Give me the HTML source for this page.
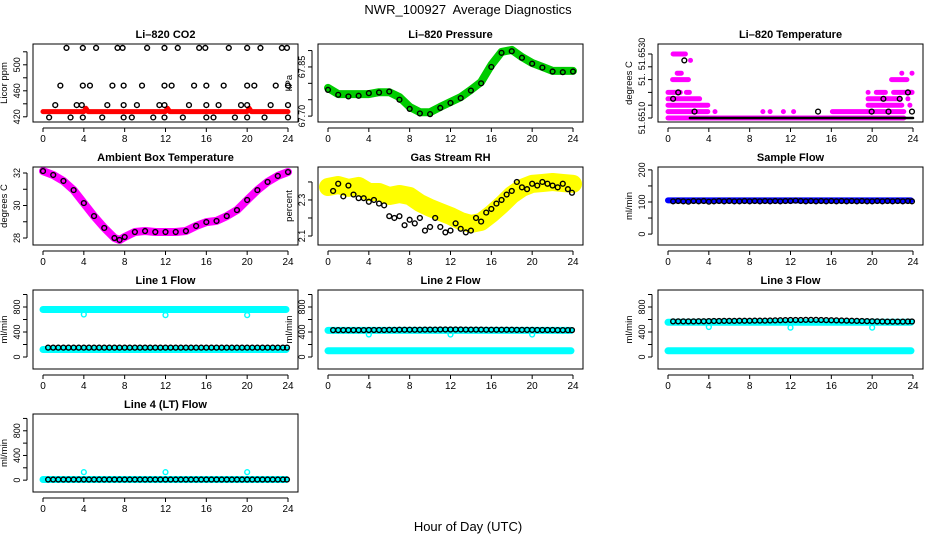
<!DOCTYPE html>
<html><head><meta charset="utf-8"><style>
body{margin:0;background:#fff;}
svg{display:block;font-family:"Liberation Sans",Arial,sans-serif;}
</style></head><body>
<svg id="chart" width="936" height="540" viewBox="0 0 936 540">
<text x="468" y="14" text-anchor="middle" font-size="13" xml:space="preserve">NWR_100927  Average Diagnostics</text>
<text x="468" y="531" text-anchor="middle" font-size="13">Hour of Day (UTC)</text>
</svg>
<script>
// ---------- data ----------
const xTicks = [0,4,8,12,16,20,24];
const hrs = [0.5,1,1.5,2,2.5,3,3.5,4,4.5,5,5.5,6,6.5,7,7.5,8,8.5,9,9.5,10,10.5,11,11.5,12,12.5,13,13.5,14,14.5,15,15.5,16,16.5,17,17.5,18,18.5,19,19.5,20,20.5,21,21.5,22,22.5,23,23.5,23.9];

// CO2
const co2BlackX = [2.3,3.9,5.2,7.3,7.8,10.2,11.9,13.2,15.3,15.9,18.2,20,21.3,23.4,23.9,
  1.7,3.9,4.6,6.8,7.9,9.7,11.9,12.6,14.8,16,17.7,20,20.7,22.8,24,
  1.2,3.3,3.8,6.3,7.9,9.2,11.4,11.9,14.3,16,17.2,19.4,20,22.3,24,
  0.6,2.7,3.9,5.8,7.9,8.7,10.8,11.9,13.7,16,16.7,18.8,20,21.7,24];
const co2BlackY = [526,526,526,526,526,526,526,526,526,526,526,526,526,526,526,
  468,468,468,468,468,468,468,468,468,468,468,468,468,468,468,
  438,438,438,438,438,438,438,438,438,438,438,438,438,438,438,
  419,419,419,419,419,419,419,419,419,419,419,419,419,419,419];
const co2RedX = [0,4,4.2,4.4,12,12.2,12.4,20,20.2,20.4,24];
const co2RedY = [428,428,433,428,428,433,428,428,433,428,428];

// Pressure
const presX = [0,1,2,3,4,5,6,7,8,9,10,11,12,13,14,15,16,17,18,19,20,21,22,23,24];
const presGreen = [67.786,67.767,67.767,67.767,67.767,67.773,67.773,67.758,67.728,67.712,67.712,67.728,67.743,67.758,67.780,67.804,67.856,67.896,67.902,67.880,67.862,67.850,67.838,67.838,67.838];
const presBlack = [67.780,67.765,67.760,67.762,67.770,67.772,67.775,67.750,67.722,67.708,67.706,67.725,67.740,67.755,67.778,67.800,67.850,67.893,67.898,67.878,67.860,67.848,67.836,67.834,67.836];

// Li-820 temperature (levels of 0.0002 above 51.6510)
const tmLevel = [0,1,1,1,1,1,1,1,2,2,2,3,3,3,4,4,4,4,4,4,6,6,7,7,7,9,10];
const tmStart = [0.0,0.0,9.3,10.0,11.3,12.3,16.1,4.6,0.0,19.6,23.7,0.0,19.6,23.5,0.0,1.8,19.6,20.4,22.1,23.4,0.45,21.9,0.9,22.9,23.9,2.2,0.5];
const tmEnd   = [23.1,3.9,9.3,10.0,11.3,12.3,23.1,4.6,3.9,22.9,23.7,3.1,22.7,23.5,1.2,2.1,19.6,21.3,23.9,23.9,2.0,23.4,1.3,22.9,23.9,2.2,1.7];
const tbX = [0.5,1.0,1.6,2.6,14.7,19.95,21.1,21.6,22.7,23.5,23.9];
const tbLevel = [3,4,9,1,1,1,3,1,3,4,1];
const tbBandStart = 2.15, tbBandEnd = 24.0;

// Ambient box temperature
const ambX = [0,1,2,3,4,5,6,7,7.5,8,9,10,11,12,13,14,15,16,17,18,19,20,21,22,23,24];
const ambY = [32.12,31.88,31.51,30.95,30.15,29.35,28.62,28.0,27.88,28.06,28.37,28.43,28.37,28.37,28.37,28.43,28.74,28.98,29.05,29.35,29.72,30.34,30.95,31.45,31.82,32.06];

// Gas stream RH
const rhX = [0,1,2,3,4,5,6,7,8,9,10,11,12,13,14,15,16,17,18,19,20,21,22,23,24];
const rhY = [2.372,2.383,2.367,2.378,2.344,2.344,2.322,2.333,2.322,2.283,2.256,2.233,2.211,2.183,2.167,2.178,2.222,2.272,2.328,2.367,2.389,2.394,2.400,2.394,2.389];
const rhBlack = [2.35,2.39,2.32,2.38,2.33,2.31,2.31,2.29,2.30,2.28,2.27,2.21,2.20,2.21,2.16,2.19,2.17,2.20,2.13,2.15,2.20,2.15,2.12,2.13,2.17,2.14,2.12,2.13,2.20,2.18,2.23,2.25,2.28,2.30,2.33,2.35,2.40,2.37,2.36,2.39,2.38,2.40,2.39,2.38,2.37,2.39,2.36,2.34];

// Flows
const sampleBlue = 105;
const sampleBlack = [102,103,102,101,103,102,103,101,102,103,102,103,102,102,103,102,103,102,103,102,103,102,103,103,104,103,102,103,102,103,102,103,102,103,102,103,102,103,102,102,103,102,103,102,103,102,103,102];
const dipHours = [4,12,20];
const l1Cyan = [760,120]; const l1Dip = [680,670,670];
const l1Black = [150,150,150,150,150,150,150,150,150,150,150,150,150,150,150,150,150,150,150,150,150,150,150,150,150,150,150,150,150,150,150,150,150,150,150,150,150,150,150,150,150,150,150,150,150,150,150,150];
const l2Cyan = [425,100]; const l2Dip = [360,360,360];
const l2Black = [430,430,430,430,430,430,430,432,432,432,432,434,434,436,436,436,436,436,438,438,438,440,440,440,440,440,438,438,438,438,436,436,436,436,436,436,434,434,434,434,432,432,432,432,430,430,430,430];
const l3Cyan = [555,100]; const l3Dip = [480,470,470];
const l3Black = [570,570,570,570,570,572,572,574,576,576,578,578,578,580,580,580,582,582,582,584,586,588,590,592,592,592,594,594,594,592,590,588,586,584,582,580,578,576,574,572,570,568,566,566,566,566,568,568];
const l4Cyan = [10]; const l4Dip = [130,130,130];
const l4Black = [10,10,10,10,10,10,10,10,10,10,10,10,10,10,10,10,10,10,10,10,10,10,10,10,10,10,10,10,10,10,10,10,10,10,10,10,10,10,10,10,10,10,10,10,10,10,10,10];

// ---------- drawing ----------
const svg = document.getElementById('chart');
const NS = 'http://www.w3.org/2000/svg';
function el(tag, attrs, parent){ const e=document.createElementNS(NS,tag); for(const k in attrs) e.setAttribute(k,attrs[k]); (parent||svg).appendChild(e); return e; }

function makePanel(name, title, bx0, by0, bx1, by1, ylim, yTicks, yLabels, ylab){
  const g = el('g',{});
  
  
  const xs = h => (bx0+10) + h/24*((bx1-10)-(bx0+10));
  const ys = v => by1 - (v-ylim[0])/(ylim[1]-ylim[0])*(by1-by0);
  const t = el('text',{x:(bx0+bx1)/2,y:by0-6,'text-anchor':'middle','font-size':11,'font-weight':'bold'},g);
  t.textContent = title;
  
  
  const plot = el('g',{},g);
  const ax = el('g',{stroke:'#000','stroke-width':1,fill:'none'},g);
  el('rect',{x:bx0,y:by0,width:bx1-bx0,height:by1-by0},ax);
  el('line',{x1:xs(0),x2:xs(24),y1:by1+6,y2:by1+6},ax);
  xTicks.forEach(v=>{
    el('line',{x1:xs(v),x2:xs(v),y1:by1+6,y2:by1+10},ax);
    const tx = el('text',{x:xs(v),y:by1+20,'text-anchor':'middle','font-size':10,stroke:'none',fill:'#000'},g);
    tx.textContent = v;
    
    
  });
  el('line',{x1:bx0-6,x2:bx0-6,y1:ys(yTicks[0]),y2:ys(yTicks[yTicks.length-1])},ax);
  yTicks.forEach((v,i)=>{
    el('line',{x1:bx0-10,x2:bx0-6,y1:ys(v),y2:ys(v)},ax);
    if(yLabels[i]){
      const ty = el('text',{x:0,y:0,transform:`translate(${bx0-13},${ys(v)}) rotate(-90)`,'text-anchor':'middle','font-size':9,fill:'#000'},g);
      ty.textContent = yLabels[i];
      
      
    }
  });
  const yl = el('text',{x:0,y:0,transform:`translate(${bx0-26},${(by0+by1)/2}) rotate(-90)`,'text-anchor':'middle','font-size':9.5,fill:'#000'},g);
  yl.textContent = ylab;
  
  
  return {xs,ys,plot};
}
function band(p, X, Y, color, w, name){
  const pts = X.map((x,i)=>p.xs(x).toFixed(1)+','+p.ys(Y[i]).toFixed(1)).join(' ');
  const l = el('polyline',{points:pts,fill:'none',stroke:color,'stroke-width':w,'stroke-linejoin':'round','stroke-linecap':'round'},p.plot);
  
  
}
function pts(p, X, Y, color, name){
  X.forEach((x,i)=>{
    const c = el('circle',{cx:p.xs(x),cy:p.ys(Y[i]),r:2.4,fill:'none',stroke:color,'stroke-width':1.4},p.plot);
    
    
  });
}

// Panel 1: CO2
let p = makePanel('panel-co2','Li\u2013820 CO2',33,44,298,122,[412,532],[420,440,460,480,500,520],['420','','460','','500',''],'Licor ppm');
band(p, co2RedX, co2RedY, '#ff0000', 5, 'co2-raw-band');
pts(p, co2BlackX, co2BlackY, '#000', 'co2-average-point');

// Panel 2: Pressure
p = makePanel('panel-pressure','Li\u2013820 Pressure',318,44,583,122,[67.682,67.920],[67.70,67.75,67.80,67.85,67.90],['67.70','','','67.85',''],'kPa');
band(p, presX, presGreen, '#00cc00', 8, 'pressure-raw-band');
pts(p, presX, presBlack, '#000', 'pressure-average-point');

// Panel 3: Li-820 temperature
p = makePanel('panel-li820-temp','Li\u2013820 Temperature',658,44,923,122,[51.650875,51.6533125],[51.6510,51.6514,51.6518,51.6522,51.6526,51.6530],['51.6510','','','51.','','51.6530'],'degrees C');
tmLevel.forEach((L,i)=>{
  const v = 51.6510 + L*0.0002;
  band(p, [tmStart[i], tmEnd[i]], [v, v], '#ff00ff', 5, 'temp-raw-band');
});
band(p, [tbBandStart, tbBandEnd], [51.6510, 51.6510], '#000', 2.5, 'temp-average-band');
pts(p, tbX, tbLevel.map(L=>51.6510+L*0.0002), '#000', 'temp-average-point');

// Panel 4: Ambient
p = makePanel('panel-ambient-temp','Ambient Box Temperature',33,167,298,245,[27.57,32.37],[28,29,30,31,32],['28','','30','','32'],'degrees C');
band(p, ambX, ambY, '#ff00ff', 8, 'ambient-raw-band');
pts(p, ambX, ambY, '#000', 'ambient-average-point');

// Panel 5: RH
p = makePanel('panel-rh','Gas Stream RH',318,167,583,245,[2.05,2.483],[2.1,2.2,2.3,2.4],['2.1','','2.3',''],'percent');
band(p, rhX, rhY, '#ffff00', 18, 'rh-raw-band');
pts(p, hrs, rhBlack, '#000', 'rh-average-point');

// Panel 6: Sample flow
p = makePanel('panel-sample-flow','Sample Flow',658,167,923,245,[-34,209],[0,50,100,150,200],['0','','100','','200'],'ml/min');
band(p, [0,23.8], [sampleBlue,sampleBlue], '#0000ff', 6, 'sample-raw-band');
pts(p, hrs, sampleBlack, '#000', 'sample-average-point');

// Flow panels
function flowPanel(name,title,bx0,by0,bx1,by1,cyan,dip,black){
  const q = makePanel(name,title,bx0,by0,bx1,by1,[-192,1072],[0,200,400,600,800,1000],['0','','400','','800',''],'ml/min');
  cyan.forEach(v=> band(q,[0,23.8],[v,v],'#00ffff',7,'flow-raw-band'));
  pts(q, dipHours, dip, '#00ffff', 'flow-dip-point');
  pts(q, hrs, black, '#000', 'flow-average-point');
}
flowPanel('panel-line1-flow','Line 1 Flow',33,290,298,369,l1Cyan,l1Dip,l1Black);
flowPanel('panel-line2-flow','Line 2 Flow',318,290,583,369,l2Cyan,l2Dip,l2Black);
flowPanel('panel-line3-flow','Line 3 Flow',658,290,923,369,l3Cyan,l3Dip,l3Black);
flowPanel('panel-line4-flow','Line 4 (LT) Flow',33,414,298,492,l4Cyan,l4Dip,l4Black);
</script>
</body></html>
